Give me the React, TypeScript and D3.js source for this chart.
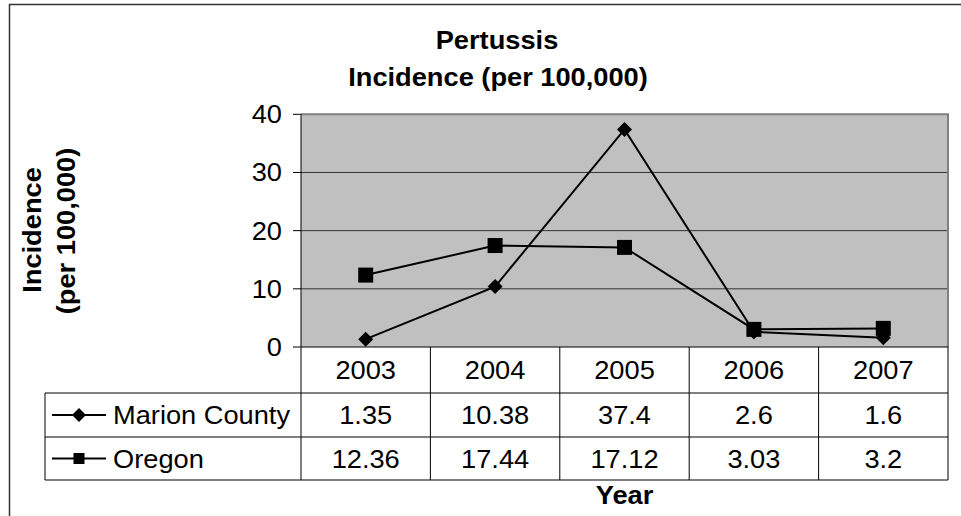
import React from 'react';
import * as d3 from 'd3';

const years = ['2003', '2004', '2005', '2006', '2007'];
const marion = [1.35, 10.38, 37.4, 2.6, 1.6];
const oregon = [12.36, 17.44, 17.12, 3.03, 3.2];
const marionLabels = ['1.35', '10.38', '37.4', '2.6', '1.6'];
const oregonLabels = ['12.36', '17.44', '17.12', '3.03', '3.2'];
const yTicks = [0, 10, 20, 30, 40];

const font = '"Liberation Sans", Arial, sans-serif';
const FS = 25;
const SX = 1.09; // the source text is a bit wider than Arial

// text with a slight horizontal stretch along its own direction
const T = ({ x, y, rot = 0, anchor = 'middle', bold = false, children }: any) => (
  <g transform={`translate(${x},${y}) rotate(${rot}) scale(${SX},1)`}>
    <text textAnchor={anchor} fontSize={FS} fontWeight={bold ? 'bold' : 'normal'}>{children}</text>
  </g>
);

const App = () => {
  const left = 301, right = 948, top = 114.3, bottom = 347;
  const rowTops = [347, 393, 437, 480];
  const legendLeft = 45;

  const x = d3.scaleBand().domain(years).range([left, right]).paddingInner(0).paddingOuter(0);
  const y = d3.scaleLinear().domain([0, 40]).range([bottom, top]);
  const cx = (d: string) => (x(d) as number) + x.bandwidth() / 2;

  const line = d3.line<number>()
    .x((d, i) => cx(years[i]))
    .y(d => y(d));

  const square = (side: number) => d3.symbol(d3.symbolSquare, side * side)() as string;
  const diamond = (w: number) => d3.symbol(d3.symbolSquare, (w * w) / 2)() as string;

  const series = [
    { name: 'Marion County', values: marion, labels: marionLabels, marker: 'diamond' },
    { name: 'Oregon', values: oregon, labels: oregonLabels, marker: 'square' },
  ];

  const drawMarker = (kind: string, px: number, py: number, big: boolean, key: any) =>
    kind === 'square'
      ? <path key={key} d={square(big ? 15 : 11)} transform={`translate(${px},${py})`} fill="#000" />
      : <path key={key} d={diamond(big ? 15 : 14)} transform={`translate(${px},${py}) rotate(45)`} fill="#000" />;

  return (
    <svg width={961} height={516} style={{ position: 'absolute', left: 0, top: 0 }} fontFamily={font}>
      <rect x={0} y={0} width={961} height={516} fill="#fff" />
      {/* outer chart border */}
      <path d="M9.5,520 V4.5 H965" fill="none" stroke="#333" strokeWidth={1.5} />

      {/* title */}
      <T x={497} y={49} bold>Pertussis</T>
      <T x={498} y={86} bold>Incidence (per 100,000)</T>

      {/* plot area */}
      <rect x={left} y={top} width={right - left} height={bottom - top} fill="#C0C0C0" />
      {yTicks.filter(t => t > 0 && t < 40).map(t => (
        <line key={t} x1={left} x2={right} y1={y(t)} y2={y(t)} stroke="#333" strokeWidth={1} />
      ))}
      <path d={`M${left},${top} H${right} V${bottom}`} fill="none" stroke="#808080" strokeWidth={2} />

      {/* y axis */}
      <line x1={left} x2={left} y1={top} y2={rowTops[3]} stroke="#000" strokeWidth={1} />
      {yTicks.map(t => (
        <g key={t}>
          <line x1={293} x2={left} y1={y(t)} y2={y(t)} stroke="#000" strokeWidth={1} />
          <T x={282} y={y(t) + 9} anchor="end">{t}</T>
        </g>
      ))}
      <T x={41} y={230} rot={-90} bold>Incidence</T>
      <T x={75} y={231} rot={-90} bold>(per 100,000)</T>

      {/* data table */}
      <line x1={left} x2={right} y1={bottom} y2={bottom} stroke="#000" strokeWidth={1} />
      {[1, 2, 3].map(r => (
        <line key={r} x1={legendLeft} x2={right} y1={rowTops[r]} y2={rowTops[r]} stroke="#000" strokeWidth={1} />
      ))}
      <line x1={legendLeft} x2={legendLeft} y1={rowTops[1]} y2={rowTops[3]} stroke="#000" strokeWidth={1} />
      {years.slice(1).map(d => (
        <line key={d} x1={x(d)} x2={x(d)} y1={bottom} y2={rowTops[3]} stroke="#000" strokeWidth={1} />
      ))}
      <line x1={right} x2={right} y1={bottom} y2={rowTops[3]} stroke="#000" strokeWidth={1} />
      {years.map(d => (
        <T key={d} x={cx(d)} y={(rowTops[0] + rowTops[1]) / 2 + 9}>{d}</T>
      ))}
      {series.map((s, si) => {
        const my = (rowTops[si + 1] + rowTops[si + 2]) / 2;
        return (
          <g key={s.name}>
            <line x1={52} x2={106} y1={my} y2={my} stroke="#000" strokeWidth={2} />
            {drawMarker(s.marker, 79, my, false, 'm')}
            <T x={113} y={my + 9} anchor="start">{s.name}</T>
            {s.labels.map((l, i) => (
              <T key={i} x={cx(years[i])} y={my + 9}>{l}</T>
            ))}
          </g>
        );
      })}
      <T x={(left + right) / 2} y={504} bold>Year</T>

      {/* series */}
      {series.map(s => (
        <g key={s.name}>
          <path d={line(s.values) as string} fill="none" stroke="#000" strokeWidth={2} />
          {s.values.map((v, i) => drawMarker(s.marker, cx(years[i]), y(v), true, i))}
        </g>
      ))}
    </svg>
  );
};

export default App;
